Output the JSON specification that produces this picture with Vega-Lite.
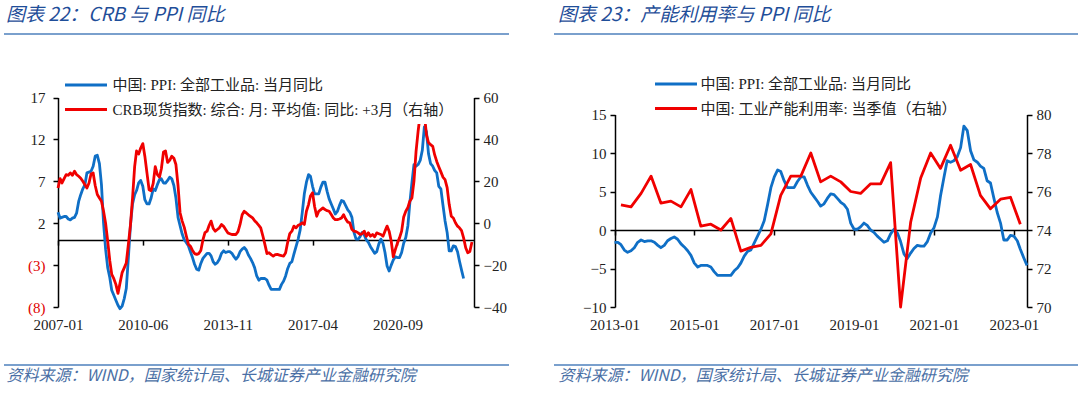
{
  "$schema": "https://vega.github.io/schema/vega-lite/v6.json",
  "background": "white",
  "padding": {"left": 3, "top": 4, "right": 0, "bottom": 8},
  "bounds": "flush",
  "spacing": 45,
  "config": {
    "font": "'Liberation Serif','Noto Sans CJK SC'",
    "axis": {"grid": false, "domainColor": "#000", "domainWidth": 1.5, "tickColor": "#000", "tickWidth": 1.5, "tickSize": 5, "labelFont": "'Liberation Serif','Noto Sans CJK SC'", "labelFontSize": 15, "labelColor": "#222", "labelFlush": false, "labelOverlap": false},
    "legend": {"title": null, "orient": "none", "direction": "vertical", "symbolType": "M-2.5,0H2.5", "symbolSize": 282, "symbolStrokeWidth": 3, "labelFont": "'Liberation Serif','Noto Sans CJK SC'", "labelFontSize": 15, "labelColor": "#222", "labelLimit": 700, "rowPadding": 6.5, "padding": 6, "fillColor": "white"},
    "title": {"font": "'Noto Sans CJK SC'", "fontStyle": "italic", "fontWeight": "normal", "fontSize": 19, "color": "#1F4E99", "anchor": "start", "frame": "group", "baseline": "alphabetic", "offset": 9.5}
  },
  "resolve": {"scale": {"color": "independent"}, "legend": {"color": "independent"}},
  "datasets": {
    "ppi": [
      {"d":"2007-01","v":3.3},{"d":"2007-02","v":2.6},{"d":"2007-03","v":2.7},{"d":"2007-04","v":2.8},{"d":"2007-05","v":2.8},{"d":"2007-06","v":2.5},{"d":"2007-07","v":2.4},{"d":"2007-08","v":2.6},{"d":"2007-09","v":2.7},{"d":"2007-10","v":3.2},{"d":"2007-11","v":4.6},{"d":"2007-12","v":5.4},
      {"d":"2008-01","v":6.1},{"d":"2008-02","v":6.6},{"d":"2008-03","v":8.0},{"d":"2008-04","v":8.1},{"d":"2008-05","v":8.2},{"d":"2008-06","v":8.8},{"d":"2008-07","v":10.0},{"d":"2008-08","v":10.1},{"d":"2008-09","v":9.1},{"d":"2008-10","v":6.6},{"d":"2008-11","v":2.0},{"d":"2008-12","v":-1.1},
      {"d":"2009-01","v":-3.3},{"d":"2009-02","v":-4.5},{"d":"2009-03","v":-6.0},{"d":"2009-04","v":-6.6},{"d":"2009-05","v":-7.2},{"d":"2009-06","v":-7.8},{"d":"2009-07","v":-8.2},{"d":"2009-08","v":-7.9},{"d":"2009-09","v":-7.0},{"d":"2009-10","v":-5.8},{"d":"2009-11","v":-2.1},{"d":"2009-12","v":1.7},
      {"d":"2010-01","v":4.3},{"d":"2010-02","v":5.4},{"d":"2010-03","v":5.9},{"d":"2010-04","v":6.8},{"d":"2010-05","v":7.1},{"d":"2010-06","v":6.4},{"d":"2010-07","v":4.8},{"d":"2010-08","v":4.3},{"d":"2010-09","v":4.3},{"d":"2010-10","v":5.0},{"d":"2010-11","v":6.1},{"d":"2010-12","v":5.9},
      {"d":"2011-01","v":6.6},{"d":"2011-02","v":7.2},{"d":"2011-03","v":7.3},{"d":"2011-04","v":6.8},{"d":"2011-05","v":6.8},{"d":"2011-06","v":7.1},{"d":"2011-07","v":7.5},{"d":"2011-08","v":7.3},{"d":"2011-09","v":6.5},{"d":"2011-10","v":5.0},{"d":"2011-11","v":2.7},{"d":"2011-12","v":1.7},
      {"d":"2012-01","v":0.7},{"d":"2012-02","v":0.0},{"d":"2012-03","v":-0.3},{"d":"2012-04","v":-0.7},{"d":"2012-05","v":-1.4},{"d":"2012-06","v":-2.1},{"d":"2012-07","v":-2.9},{"d":"2012-08","v":-3.5},{"d":"2012-09","v":-3.6},{"d":"2012-10","v":-2.8},{"d":"2012-11","v":-2.2},{"d":"2012-12","v":-1.9},
      {"d":"2013-01","v":-1.6},{"d":"2013-02","v":-1.6},{"d":"2013-03","v":-1.9},{"d":"2013-04","v":-2.6},{"d":"2013-05","v":-2.9},{"d":"2013-06","v":-2.7},{"d":"2013-07","v":-2.3},{"d":"2013-08","v":-1.6},{"d":"2013-09","v":-1.3},{"d":"2013-10","v":-1.5},{"d":"2013-11","v":-1.4},{"d":"2013-12","v":-1.4},
      {"d":"2014-01","v":-1.6},{"d":"2014-02","v":-2.0},{"d":"2014-03","v":-2.3},{"d":"2014-04","v":-2.0},{"d":"2014-05","v":-1.4},{"d":"2014-06","v":-1.1},{"d":"2014-07","v":-0.9},{"d":"2014-08","v":-1.2},{"d":"2014-09","v":-1.8},{"d":"2014-10","v":-2.2},{"d":"2014-11","v":-2.7},{"d":"2014-12","v":-3.3},
      {"d":"2015-01","v":-4.3},{"d":"2015-02","v":-4.8},{"d":"2015-03","v":-4.6},{"d":"2015-04","v":-4.6},{"d":"2015-05","v":-4.6},{"d":"2015-06","v":-4.8},{"d":"2015-07","v":-5.4},{"d":"2015-08","v":-5.9},{"d":"2015-09","v":-5.9},{"d":"2015-10","v":-5.9},{"d":"2015-11","v":-5.9},{"d":"2015-12","v":-5.9},
      {"d":"2016-01","v":-5.3},{"d":"2016-02","v":-4.9},{"d":"2016-03","v":-4.3},{"d":"2016-04","v":-3.4},{"d":"2016-05","v":-2.8},{"d":"2016-06","v":-2.6},{"d":"2016-07","v":-1.7},{"d":"2016-08","v":-0.8},{"d":"2016-09","v":0.1},{"d":"2016-10","v":1.2},{"d":"2016-11","v":3.3},{"d":"2016-12","v":5.5},
      {"d":"2017-01","v":6.9},{"d":"2017-02","v":7.8},{"d":"2017-03","v":7.6},{"d":"2017-04","v":6.4},{"d":"2017-05","v":5.5},{"d":"2017-06","v":5.5},{"d":"2017-07","v":5.5},{"d":"2017-08","v":6.3},{"d":"2017-09","v":6.9},{"d":"2017-10","v":6.9},{"d":"2017-11","v":5.8},{"d":"2017-12","v":4.9},
      {"d":"2018-01","v":4.3},{"d":"2018-02","v":3.7},{"d":"2018-03","v":3.1},{"d":"2018-04","v":3.4},{"d":"2018-05","v":4.1},{"d":"2018-06","v":4.7},{"d":"2018-07","v":4.6},{"d":"2018-08","v":4.1},{"d":"2018-09","v":3.6},{"d":"2018-10","v":3.3},{"d":"2018-11","v":2.7},{"d":"2018-12","v":0.9},
      {"d":"2019-01","v":0.1},{"d":"2019-02","v":0.1},{"d":"2019-03","v":0.4},{"d":"2019-04","v":0.9},{"d":"2019-05","v":0.6},{"d":"2019-06","v":0.0},{"d":"2019-07","v":-0.3},{"d":"2019-08","v":-0.8},{"d":"2019-09","v":-1.2},{"d":"2019-10","v":-1.6},{"d":"2019-11","v":-1.4},{"d":"2019-12","v":-0.5},
      {"d":"2020-01","v":0.1},{"d":"2020-02","v":-0.4},{"d":"2020-03","v":-1.5},{"d":"2020-04","v":-3.1},{"d":"2020-05","v":-3.7},{"d":"2020-06","v":-3.0},{"d":"2020-07","v":-2.4},{"d":"2020-08","v":-2.0},{"d":"2020-09","v":-2.1},{"d":"2020-10","v":-2.1},{"d":"2020-11","v":-1.5},{"d":"2020-12","v":-0.4},
      {"d":"2021-01","v":0.3},{"d":"2021-02","v":1.7},{"d":"2021-03","v":4.4},{"d":"2021-04","v":6.8},{"d":"2021-05","v":9.0},{"d":"2021-06","v":8.8},{"d":"2021-07","v":9.0},{"d":"2021-08","v":9.5},{"d":"2021-09","v":10.7},{"d":"2021-10","v":13.5},{"d":"2021-11","v":12.9},{"d":"2021-12","v":10.3},
      {"d":"2022-01","v":9.1},{"d":"2022-02","v":8.8},{"d":"2022-03","v":8.3},{"d":"2022-04","v":8.0},{"d":"2022-05","v":6.4},{"d":"2022-06","v":6.1},{"d":"2022-07","v":4.2},{"d":"2022-08","v":2.3},{"d":"2022-09","v":0.9},{"d":"2022-10","v":-1.3},{"d":"2022-11","v":-1.3},{"d":"2022-12","v":-0.7},
      {"d":"2023-01","v":-0.8},{"d":"2023-02","v":-1.4},{"d":"2023-03","v":-2.5},{"d":"2023-04","v":-3.6},{"d":"2023-05","v":-4.6}
    ],
    "ppi2": [
      {"d":"2013-01","v":-1.6},{"d":"2013-02","v":-1.6},{"d":"2013-03","v":-1.9},{"d":"2013-04","v":-2.6},{"d":"2013-05","v":-2.9},{"d":"2013-06","v":-2.7},{"d":"2013-07","v":-2.3},{"d":"2013-08","v":-1.6},{"d":"2013-09","v":-1.3},{"d":"2013-10","v":-1.5},{"d":"2013-11","v":-1.4},{"d":"2013-12","v":-1.4},
      {"d":"2014-01","v":-1.6},{"d":"2014-02","v":-2.0},{"d":"2014-03","v":-2.3},{"d":"2014-04","v":-2.0},{"d":"2014-05","v":-1.4},{"d":"2014-06","v":-1.1},{"d":"2014-07","v":-0.9},{"d":"2014-08","v":-1.2},{"d":"2014-09","v":-1.8},{"d":"2014-10","v":-2.2},{"d":"2014-11","v":-2.7},{"d":"2014-12","v":-3.3},
      {"d":"2015-01","v":-4.3},{"d":"2015-02","v":-4.8},{"d":"2015-03","v":-4.6},{"d":"2015-04","v":-4.6},{"d":"2015-05","v":-4.6},{"d":"2015-06","v":-4.8},{"d":"2015-07","v":-5.4},{"d":"2015-08","v":-5.9},{"d":"2015-09","v":-5.9},{"d":"2015-10","v":-5.9},{"d":"2015-11","v":-5.9},{"d":"2015-12","v":-5.9},
      {"d":"2016-01","v":-5.3},{"d":"2016-02","v":-4.9},{"d":"2016-03","v":-4.3},{"d":"2016-04","v":-3.4},{"d":"2016-05","v":-2.8},{"d":"2016-06","v":-2.6},{"d":"2016-07","v":-1.7},{"d":"2016-08","v":-0.8},{"d":"2016-09","v":0.1},{"d":"2016-10","v":1.2},{"d":"2016-11","v":3.3},{"d":"2016-12","v":5.5},
      {"d":"2017-01","v":6.9},{"d":"2017-02","v":7.8},{"d":"2017-03","v":7.6},{"d":"2017-04","v":6.4},{"d":"2017-05","v":5.5},{"d":"2017-06","v":5.5},{"d":"2017-07","v":5.5},{"d":"2017-08","v":6.3},{"d":"2017-09","v":6.9},{"d":"2017-10","v":6.9},{"d":"2017-11","v":5.8},{"d":"2017-12","v":4.9},
      {"d":"2018-01","v":4.3},{"d":"2018-02","v":3.7},{"d":"2018-03","v":3.1},{"d":"2018-04","v":3.4},{"d":"2018-05","v":4.1},{"d":"2018-06","v":4.7},{"d":"2018-07","v":4.6},{"d":"2018-08","v":4.1},{"d":"2018-09","v":3.6},{"d":"2018-10","v":3.3},{"d":"2018-11","v":2.7},{"d":"2018-12","v":0.9},
      {"d":"2019-01","v":0.1},{"d":"2019-02","v":0.1},{"d":"2019-03","v":0.4},{"d":"2019-04","v":0.9},{"d":"2019-05","v":0.6},{"d":"2019-06","v":0.0},{"d":"2019-07","v":-0.3},{"d":"2019-08","v":-0.8},{"d":"2019-09","v":-1.2},{"d":"2019-10","v":-1.6},{"d":"2019-11","v":-1.4},{"d":"2019-12","v":-0.5},
      {"d":"2020-01","v":0.1},{"d":"2020-02","v":-0.4},{"d":"2020-03","v":-1.5},{"d":"2020-04","v":-3.1},{"d":"2020-05","v":-3.7},{"d":"2020-06","v":-3.0},{"d":"2020-07","v":-2.4},{"d":"2020-08","v":-2.0},{"d":"2020-09","v":-2.1},{"d":"2020-10","v":-2.1},{"d":"2020-11","v":-1.5},{"d":"2020-12","v":-0.4},
      {"d":"2021-01","v":0.3},{"d":"2021-02","v":1.7},{"d":"2021-03","v":4.4},{"d":"2021-04","v":6.8},{"d":"2021-05","v":9.0},{"d":"2021-06","v":8.8},{"d":"2021-07","v":9.0},{"d":"2021-08","v":9.5},{"d":"2021-09","v":10.7},{"d":"2021-10","v":13.5},{"d":"2021-11","v":12.9},{"d":"2021-12","v":10.3},
      {"d":"2022-01","v":9.1},{"d":"2022-02","v":8.8},{"d":"2022-03","v":8.3},{"d":"2022-04","v":8.0},{"d":"2022-05","v":6.4},{"d":"2022-06","v":6.1},{"d":"2022-07","v":4.2},{"d":"2022-08","v":2.3},{"d":"2022-09","v":0.9},{"d":"2022-10","v":-1.3},{"d":"2022-11","v":-1.3},{"d":"2022-12","v":-0.7},
      {"d":"2023-01","v":-0.8},{"d":"2023-02","v":-1.4},{"d":"2023-03","v":-2.5},{"d":"2023-04","v":-3.6},{"d":"2023-05","v":-4.6}
    ],
    "crb": [
      {"d":"2007-01","v":16.8},{"d":"2007-02","v":21.3},{"d":"2007-03","v":19.2},{"d":"2007-04","v":21.3},{"d":"2007-05","v":23.2},{"d":"2007-06","v":22.9},{"d":"2007-07","v":24.0},{"d":"2007-08","v":22.9},{"d":"2007-09","v":24.8},{"d":"2007-10","v":23.2},{"d":"2007-11","v":22.4},{"d":"2007-12","v":21.5},
      {"d":"2008-01","v":20.0},{"d":"2008-02","v":18.4},{"d":"2008-03","v":16.8},{"d":"2008-04","v":19.2},{"d":"2008-05","v":23.5},{"d":"2008-06","v":24.0},{"d":"2008-07","v":18.0},{"d":"2008-08","v":13.7},{"d":"2008-09","v":12.0},{"d":"2008-10","v":10.5},{"d":"2008-11","v":5.7},{"d":"2008-12","v":0.0},
      {"d":"2009-01","v":-8.6},{"d":"2009-02","v":-18.0},{"d":"2009-03","v":-24.4},{"d":"2009-04","v":-26.5},{"d":"2009-05","v":-29.2},{"d":"2009-06","v":-33.5},{"d":"2009-07","v":-28.5},{"d":"2009-08","v":-23.6},{"d":"2009-09","v":-21.3},{"d":"2009-10","v":-19.0},{"d":"2009-11","v":-10.0},{"d":"2009-12","v":-1.0},
      {"d":"2010-01","v":12.0},{"d":"2010-02","v":27.0},{"d":"2010-03","v":34.5},{"d":"2010-04","v":33.0},{"d":"2010-05","v":35.9},{"d":"2010-06","v":38.0},{"d":"2010-07","v":32.0},{"d":"2010-08","v":24.0},{"d":"2010-09","v":16.0},{"d":"2010-10","v":15.5},{"d":"2010-11","v":19.0},{"d":"2010-12","v":27.0},
      {"d":"2011-01","v":23.2},{"d":"2011-02","v":22.0},{"d":"2011-03","v":26.0},{"d":"2011-04","v":34.0},{"d":"2011-05","v":34.5},{"d":"2011-06","v":29.0},{"d":"2011-07","v":30.0},{"d":"2011-08","v":32.0},{"d":"2011-09","v":31.0},{"d":"2011-10","v":28.0},{"d":"2011-11","v":18.0},{"d":"2011-12","v":5.0},
      {"d":"2012-01","v":1.0},{"d":"2012-02","v":-2.0},{"d":"2012-03","v":-6.0},{"d":"2012-04","v":-10.0},{"d":"2012-05","v":-11.0},{"d":"2012-06","v":-13.0},{"d":"2012-07","v":-14.5},{"d":"2012-08","v":-14.9},{"d":"2012-09","v":-14.5},{"d":"2012-10","v":-13.0},{"d":"2012-11","v":-8.0},{"d":"2012-12","v":-4.5},
      {"d":"2013-01","v":-3.8},{"d":"2013-02","v":-1.0},{"d":"2013-03","v":1.0},{"d":"2013-04","v":-2.5},{"d":"2013-05","v":-3.8},{"d":"2013-06","v":-3.0},{"d":"2013-07","v":-2.2},{"d":"2013-08","v":-0.6},{"d":"2013-09","v":-1.5},{"d":"2013-10","v":-3.0},{"d":"2013-11","v":-4.6},{"d":"2013-12","v":-5.0},
      {"d":"2014-01","v":-5.4},{"d":"2014-02","v":-5.4},{"d":"2014-03","v":-5.4},{"d":"2014-04","v":-4.0},{"d":"2014-05","v":-0.6},{"d":"2014-06","v":4.0},{"d":"2014-07","v":5.7},{"d":"2014-08","v":4.9},{"d":"2014-09","v":4.0},{"d":"2014-10","v":3.3},{"d":"2014-11","v":2.5},{"d":"2014-12","v":1.2},
      {"d":"2015-01","v":0.2},{"d":"2015-02","v":-1.0},{"d":"2015-03","v":-2.2},{"d":"2015-04","v":-6.0},{"d":"2015-05","v":-10.1},{"d":"2015-06","v":-14.5},{"d":"2015-07","v":-14.1},{"d":"2015-08","v":-15.0},{"d":"2015-09","v":-15.7},{"d":"2015-10","v":-15.0},{"d":"2015-11","v":-14.9},{"d":"2015-12","v":-15.2},
      {"d":"2016-01","v":-15.5},{"d":"2016-02","v":-15.7},{"d":"2016-03","v":-14.1},{"d":"2016-04","v":-9.0},{"d":"2016-05","v":-5.0},{"d":"2016-06","v":-3.8},{"d":"2016-07","v":-1.4},{"d":"2016-08","v":-2.2},{"d":"2016-09","v":-1.0},{"d":"2016-10","v":-0.6},{"d":"2016-11","v":0.2},{"d":"2016-12","v":-0.6},
      {"d":"2017-01","v":5.7},{"d":"2017-02","v":8.9},{"d":"2017-03","v":13.0},{"d":"2017-04","v":14.5},{"d":"2017-05","v":8.0},{"d":"2017-06","v":3.3},{"d":"2017-07","v":5.7},{"d":"2017-08","v":6.5},{"d":"2017-09","v":7.3},{"d":"2017-10","v":6.5},{"d":"2017-11","v":6.0},{"d":"2017-12","v":5.7},
      {"d":"2018-01","v":4.1},{"d":"2018-02","v":2.5},{"d":"2018-03","v":1.7},{"d":"2018-04","v":1.7},{"d":"2018-05","v":2.0},{"d":"2018-06","v":2.5},{"d":"2018-07","v":4.1},{"d":"2018-08","v":2.0},{"d":"2018-09","v":0.5},{"d":"2018-10","v":0.2},{"d":"2018-11","v":-3.0},{"d":"2018-12","v":-3.8},
      {"d":"2019-01","v":-4.0},{"d":"2019-02","v":-4.6},{"d":"2019-03","v":-5.4},{"d":"2019-04","v":-5.0},{"d":"2019-05","v":-3.8},{"d":"2019-06","v":-6.2},{"d":"2019-07","v":-4.6},{"d":"2019-08","v":-6.2},{"d":"2019-09","v":-5.4},{"d":"2019-10","v":-6.5},{"d":"2019-11","v":-4.6},{"d":"2019-12","v":-5.0},
      {"d":"2020-01","v":-5.4},{"d":"2020-02","v":-6.2},{"d":"2020-03","v":-3.8},{"d":"2020-04","v":-1.4},{"d":"2020-05","v":-3.8},{"d":"2020-06","v":-8.6},{"d":"2020-07","v":-16.0},{"d":"2020-08","v":-12.5},{"d":"2020-09","v":-9.4},{"d":"2020-10","v":-7.0},{"d":"2020-11","v":-3.8},{"d":"2020-12","v":3.0},
      {"d":"2021-01","v":5.7},{"d":"2021-02","v":7.5},{"d":"2021-03","v":10.5},{"d":"2021-04","v":12.0},{"d":"2021-05","v":20.0},{"d":"2021-06","v":34.3},{"d":"2021-07","v":43.8},{"d":"2021-08","v":52.0},{"d":"2021-09","v":56.0},{"d":"2021-10","v":52.0},{"d":"2021-11","v":42.2},{"d":"2021-12","v":38.5},
      {"d":"2022-01","v":37.5},{"d":"2022-02","v":36.7},{"d":"2022-03","v":32.7},{"d":"2022-04","v":29.5},{"d":"2022-05","v":27.0},{"d":"2022-06","v":24.5},{"d":"2022-07","v":22.0},{"d":"2022-08","v":20.8},{"d":"2022-09","v":17.0},{"d":"2022-10","v":9.0},{"d":"2022-11","v":3.3},{"d":"2022-12","v":2.5},
      {"d":"2023-01","v":0.2},{"d":"2023-02","v":-1.4},{"d":"2023-03","v":-2.2},{"d":"2023-04","v":-3.5},{"d":"2023-05","v":-7.0},{"d":"2023-06","v":-11.7},{"d":"2023-07","v":-14.1},{"d":"2023-08","v":-13.5},{"d":"2023-09","v":-9.0}
    ],
    "cu": [
      {"d":"2013-03","v":75.3},{"d":"2013-06","v":75.2},{"d":"2013-09","v":75.9},{"d":"2013-12","v":76.8},
      {"d":"2014-03","v":75.4},{"d":"2014-06","v":75.5},{"d":"2014-09","v":75.2},{"d":"2014-12","v":76.1},
      {"d":"2015-03","v":74.2},{"d":"2015-06","v":74.3},{"d":"2015-09","v":74.0},{"d":"2015-12","v":74.6},
      {"d":"2016-03","v":72.9},{"d":"2016-06","v":73.1},{"d":"2016-09","v":73.2},{"d":"2016-12","v":73.8},
      {"d":"2017-03","v":75.8},{"d":"2017-06","v":76.8},{"d":"2017-09","v":76.8},{"d":"2017-12","v":78.0},
      {"d":"2018-03","v":76.5},{"d":"2018-06","v":76.8},{"d":"2018-09","v":76.5},{"d":"2018-12","v":76.0},
      {"d":"2019-03","v":75.9},{"d":"2019-06","v":76.4},{"d":"2019-09","v":76.4},{"d":"2019-12","v":77.5},
      {"d":"2020-03","v":67.3},{"d":"2020-06","v":74.4},{"d":"2020-09","v":76.7},{"d":"2020-12","v":78.0},
      {"d":"2021-03","v":77.2},{"d":"2021-06","v":78.4},{"d":"2021-09","v":77.1},{"d":"2021-12","v":77.4},
      {"d":"2022-03","v":75.8},{"d":"2022-06","v":75.1},{"d":"2022-09","v":75.6},{"d":"2022-12","v":75.7},
      {"d":"2023-03","v":74.3}
    ]
  },
  "hconcat": [
    {
      "width": 505,
      "height": 331,
      "view": {"stroke": "#4F81BD", "strokeWidth": 1.5, "strokeDash": [505, 331], "fill": null},
      "title": {"text": "图表 22：CRB 与 PPI 同比", "dx": 2},
      "resolve": {"scale": {"y": "independent"}, "axis": {"y": "independent"}},
      "layer": [
        {
          "data": {"name": "ppi"},
          "mark": {"type": "line", "strokeWidth": 2.8, "strokeJoin": "round"},
          "encoding": {
            "x": {
              "field": "d", "type": "temporal",
              "scale": {"type": "utc", "domain": [{"year": 2007, "month": 1, "date": 1, "utc": true}, {"year": 2023, "month": 10, "date": 1, "utc": true}], "range": [54, 470]},
              "axis": {
                "orient": "bottom", "offset": -124.9, "format": "%Y-%m",
                "values": [{"year": 2007, "month": 1, "date": 1, "utc": true}, {"year": 2010, "month": 6, "date": 1, "utc": true}, {"year": 2013, "month": 11, "date": 1, "utc": true}, {"year": 2017, "month": 4, "date": 1, "utc": true}, {"year": 2020, "month": 9, "date": 1, "utc": true}],
                "labelPadding": 72,
                "title": "资料来源：WIND，国家统计局、长城证券产业金融研究院",
                "titleX": 2, "titleY": 135, "titleAlign": "left", "titleAnchor": "start", "titleBaseline": "middle",
                "titleFont": "'Noto Sans CJK SC'", "titleFontStyle": "italic", "titleFontWeight": "normal", "titleFontSize": 16, "titleColor": "#4A6FA5"
              }
            },
            "y": {
              "field": "v", "type": "quantitative",
              "scale": {"domain": [-8, 17], "range": [273, 63.5], "zero": false, "nice": false},
              "axis": {
                "orient": "left", "offset": -54, "title": null, "values": [17, 12, 7, 2, -3, -8], "labelPadding": 8,
                "labelExpr": "datum.value < 0 ? '(' + abs(datum.value) + ')' : datum.label",
                "labelColor": {"condition": {"test": "datum.value < 0", "value": "#E00000"}, "value": "#222"}
              }
            },
            "color": {
              "datum": "中国: PPI: 全部工业品: 当月同比",
              "scale": {"domain": ["中国: PPI: 全部工业品: 当月同比", "CRB现货指数: 综合: 月: 平均值: 同比: +3月（右轴）"], "range": ["#0F6FC6", "#F00000"]},
              "legend": {"legendX": 66, "legendY": 35, "labelOffset": 16.6}
            }
          }
        },
        {
          "data": {"name": "crb"},
          "mark": {"type": "line", "strokeWidth": 2.8, "strokeJoin": "round"},
          "encoding": {
            "x": {"field": "d", "type": "temporal"},
            "y": {
              "field": "v", "type": "quantitative",
              "scale": {"domain": [-40, 60], "range": [273, 63.5], "zero": false, "nice": false},
              "axis": {"orient": "right", "offset": -35, "title": null, "values": [60, 40, 20, 0, -20, -40], "labelPadding": 4}
            },
            "color": {"datum": "CRB现货指数: 综合: 月: 平均值: 同比: +3月（右轴）"}
          }
        }
      ]
    },
    {
      "width": 524,
      "height": 331,
      "view": {"stroke": "#4F81BD", "strokeWidth": 1.5, "strokeDash": [524, 331], "fill": null},
      "title": {"text": "图表 23：产能利用率与 PPI 同比", "dx": 4},
      "resolve": {"scale": {"y": "independent"}, "axis": {"y": "independent"}},
      "layer": [
        {
          "data": {"name": "ppi2"},
          "mark": {"type": "line", "strokeWidth": 2.8, "strokeJoin": "round"},
          "encoding": {
            "x": {
              "field": "d", "type": "temporal",
              "scale": {"type": "utc", "domain": [{"year": 2013, "month": 1, "date": 1, "utc": true}, {"year": 2023, "month": 5, "date": 1, "utc": true}], "range": [60.5, 473]},
              "axis": {
                "orient": "bottom", "offset": -135, "format": "%Y-%m",
                "values": [{"year": 2013, "month": 1, "date": 1, "utc": true}, {"year": 2015, "month": 1, "date": 1, "utc": true}, {"year": 2017, "month": 1, "date": 1, "utc": true}, {"year": 2019, "month": 1, "date": 1, "utc": true}, {"year": 2021, "month": 1, "date": 1, "utc": true}, {"year": 2023, "month": 1, "date": 1, "utc": true}],
                "labelPadding": 82,
                "title": "资料来源：WIND，国家统计局、长城证券产业金融研究院",
                "titleX": 4, "titleY": 145, "titleAlign": "left", "titleAnchor": "start", "titleBaseline": "middle",
                "titleFont": "'Noto Sans CJK SC'", "titleFontStyle": "italic", "titleFontWeight": "normal", "titleFontSize": 16, "titleColor": "#4A6FA5"
              }
            },
            "y": {
              "field": "v", "type": "quantitative",
              "scale": {"domain": [-10, 15], "range": [273, 80.5], "zero": false, "nice": false},
              "axis": {"orient": "left", "offset": -61, "title": null, "values": [15, 10, 5, 0, -5, -10], "labelPadding": 4}
            },
            "color": {
              "datum": "中国: PPI: 全部工业品: 当月同比",
              "scale": {"domain": ["中国: PPI: 全部工业品: 当月同比", "中国: 工业产能利用率: 当季值（右轴）"], "range": ["#0F6FC6", "#F00000"]},
              "legend": {"legendX": 106, "legendY": 34, "labelOffset": 14.6}
            }
          }
        },
        {
          "data": {"name": "cu"},
          "mark": {"type": "line", "strokeWidth": 2.8, "strokeJoin": "round"},
          "encoding": {
            "x": {"field": "d", "type": "temporal"},
            "y": {
              "field": "v", "type": "quantitative",
              "scale": {"domain": [70, 80], "range": [273, 80.5], "zero": false, "nice": false, "clamp": true},
              "axis": {"orient": "right", "offset": -51, "title": null, "values": [80, 78, 76, 74, 72, 70], "labelPadding": 4}
            },
            "color": {"datum": "中国: 工业产能利用率: 当季值（右轴）"}
          }
        }
      ]
    }
  ]
}
